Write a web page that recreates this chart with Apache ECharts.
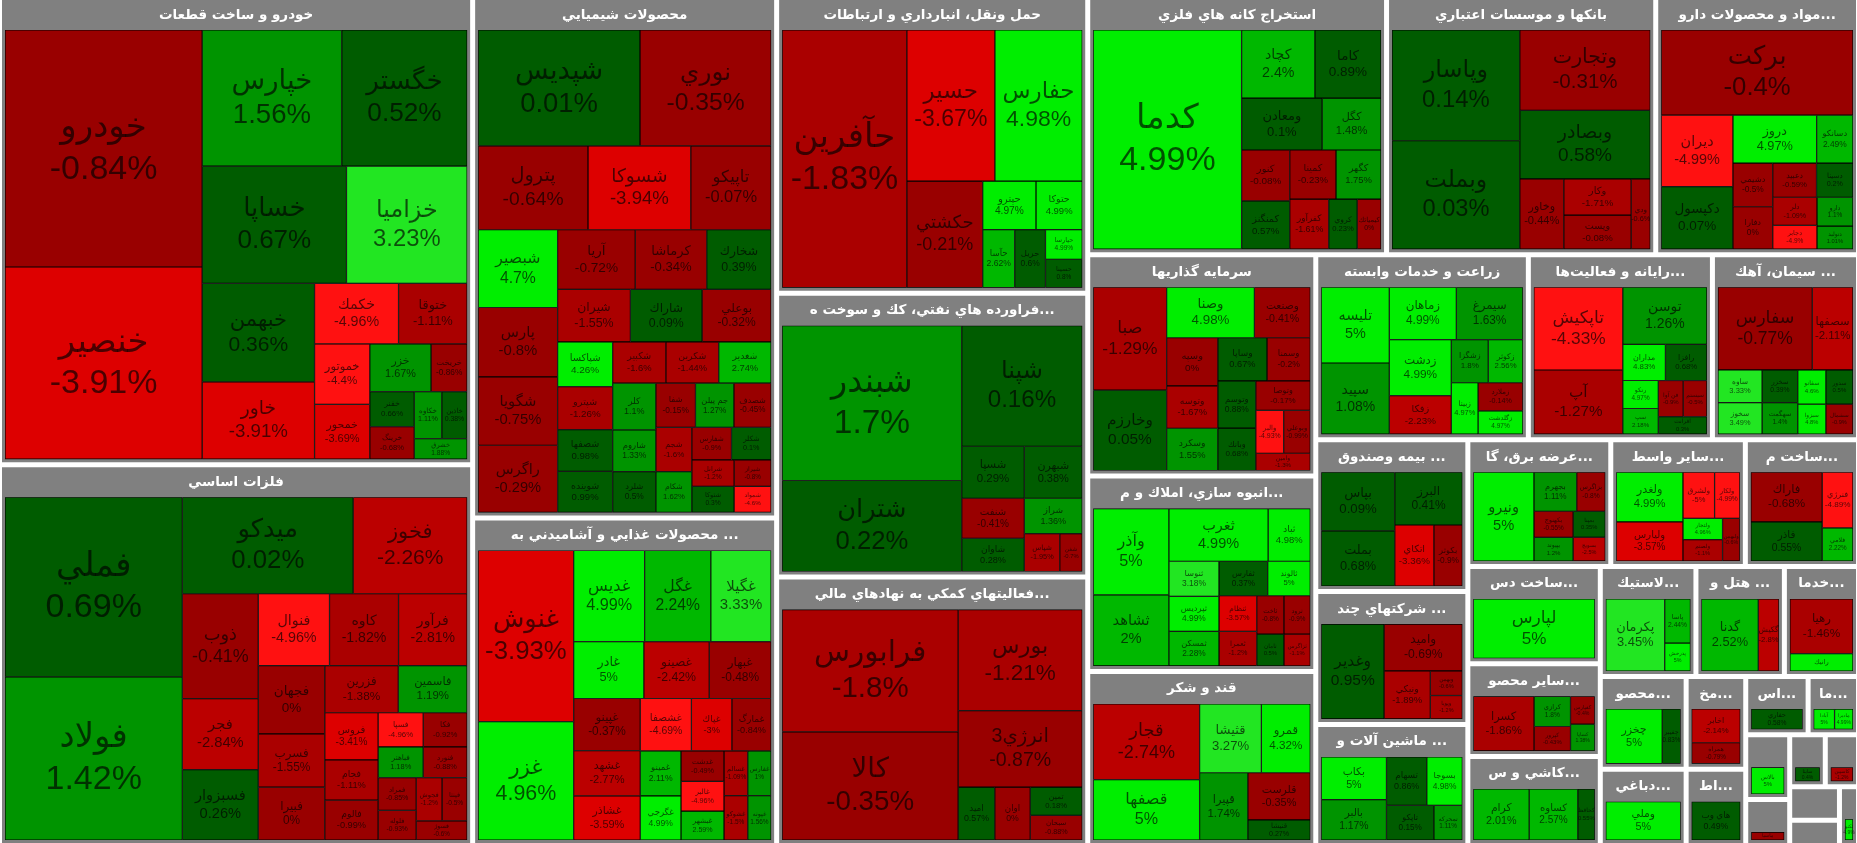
<!DOCTYPE html>
<html>
<head>
<meta charset="utf-8">
<script src="https://cdn.jsdelivr.net/npm/echarts@6/dist/echarts.min.js"></script>
<style>
html,body{margin:0;padding:0;background:#ffffff;}
#chart{width:1857px;height:843px;}
</style>
</head>
<body>
<div id="chart"></div>
<script>
// Each leaf: [symbol, % change, relative tile size]
const s_khodro = [["خودرو",-0.84,33366],["خنصير",-3.91,27058],["خپارس",1.56,13570],["خگستر",0.52,12190],["خساپا",0.67,12078],["خزاميا",3.23,10098],["خبهمن",0.36,7896],["خاور",-3.91,6204],["خكمك",-4.96,3621],["ختوقا",-1.11,2958],["خموتور",-4.4,2392],["خمحور",-3.69,2162],["خزر",1.67,2091],["خريخت",-0.86,1230],["خفنر",0.66,1110],["خرينگ",-0.68,1036],["خكاوه",1.11,924],["خاذين",0.38,851],["خشرق",1.88,777]];
const s_felezat = [["فملي",0.69,22800],["فولاد",1.42,20700],["ميدكو",0.02,11808],["فخوز",-2.26,7872],["ذوب",-0.41,5696],["فجر",-2.84,3860],["فسبزوار",0.26,3820],["فنوال",-4.96,3660],["كاوه",-1.82,3548],["فرآور",-2.81,3528],["فجهان",0,3248],["فسرب",-1.55,2530],["فبيرا",0,2510],["فزرين",-1.38,2480],["فاسمين",1.19,2320],["فروس",-3.41,1800],["فجام",-1.11,1540],["فالوم",-0.99,1520],["فسپا",-4.96,1102],["فكا",-0.92,1073],["فباهنر",1.18,988],["فنورد",-0.88,962],["فمراد",-0.85,896],["فلوله",-0.93,805],["فجوش",-1.2,800],["فپنتا",-0.5,774],["فسوژ",-0.6,700]];
const s_shimi = [["شپديس",0.01,13426],["نوري",-0.35,10878],["پترول",-0.64,6603],["شسوكا",-3.94,6177],["تاپيكو",-0.07,4828],["شبصير",4.7,4422],["پارس",-0.8,3953],["شگويا",-0.75,3886],["راگرس",-0.29,3819],["آريا",-0.72,3315],["كرماشا",-0.34,3050],["شخارك",0.39,2750],["شيران",-1.55,2740],["شاراك",0.09,2700],["بوعلي",-0.32,2596],["شپاكسا",4.26,1760],["شپترو",-1.26,1700],["شصفها",0.98,1640],["شوينده",0.99,1620],["شكبير",-1.6,1575],["شكربن",-1.44,1560],["شغدير",2.74,1550],["كلر",1.1,1444],["شاروم",1.33,1295],["شلرد",0.5,1260],["شفا",-0.15,1254],["جم پيلن",1.27,1216],["شصدف",-0.45,1178],["شجم",-1.6,1140],["شكام",1.62,1050],["شكلر",0.1,924],["شفارس",-0.9,924],["شرانل",-1.2,800],["شتوكا",0.3,790],["شيراز",-0.8,700],["شمواد",-4.6,690]];
const s_ghaza = [["غنوش",-3.93,11826],["غزر",4.96,8181],["غديس",4.99,4680],["غگل",2.24,4368],["غگيلا",3.33,3978],["غادر",5,2891],["غصينو",-2.42,2695],["غبهار",-0.48,2548],["غپينو",-0.37,2508],["غشهد",-2.77,2184],["غشاذر",-3.59,2128],["غشصفا",-4.69,1935],["غپاك",-3,1530],["غمارگ",-0.84,1485],["غمينو",2.11,1330],["غگرجي",4.99,1300],["غدشت",-0.49,950],["غالبر",-4.96,925],["غبشهر",2.59,900],["غسالم",-1.09,770],["غشوكو",-1.5,760],["غفارس",1,760],["غپونه",1.56,750]];
const s_haml = [["حآفرين",-1.83,22890],["حسير",-3.67,9472],["حفارس",4.98,9400],["حكشتي",-0.21,5760],["حپترو",4.97,1845],["حتوكا",4.99,1599],["حآسا",2.62,1323],["حريل",0.6,1274],["حپارسا",4.99,775],["حسينا",0.8,744]];
const s_naft = [["شبندر",1.7,19912],["شتران",0.22,11704],["شپنا",0.16,10404],["شسپا",0.29,2332],["شبهرن",0.38,2156],["شنفت",-0.41,1802],["شاوان",0.28,1484],["شراز",1.36,1470],["شپاس",-1.95,960],["شفن",-0.7,608]];
const s_mali = [["فرابورس",-1.8,15496],["كالا",-0.35,13708],["بورس",-1.21,9030],["انرژي3",-0.87,6825],["اميد",0.57,1395],["اوان",0,1350],["تمين",0.18,1056],["سبحان",-0.88,924]];
const s_kane = [["كدما",4.99,23436],["كچاد",2.4,3599],["كاما",0.89,3245],["ومعادن",0.1,3015],["كگل",1.48,2205],["كنور",-0.08,1763],["كمنگنز",0.57,1681],["كمينا",-0.23,1634],["كگهر",1.75,1591],["كفرآور",-1.61,1408],["كروي",0.23,1032],["كيمياتك",0,860]];
const s_bank = [["وپاسار",0.14,10165],["وبملت",0.03,9951],["وتجارت",-0.31,7521],["وبصادر",0.58,6431],["وخاور",-0.44,2220],["وكار",-1.71,1750],["وپست",-0.08,1650],["ودي",-0.6,960]];
const s_daru = [["بركت",-0.4,11800],["ديران",-4.99,3700],["دكپسول",0.07,3240],["دروز",4.97,2898],["دسانكو",2.49,1260],["دشيمي",-0.5,1254],["دفارا",0,1221],["دعبيد",-0.59,1080],["دلر",-1.09,900],["دسينا",0.2,900],["دجابر",-4.9,760],["دارو",1.1,750],["دتوليد",1.01,600]];
const s_sarmaye = [["صبا",-1.29,5394],["وخارزم",0.05,4216],["وصنا",4.98,3168],["وصنعت",-0.41,2016],["وسپه",0,1763],["وسكرد",1.55,1548],["وتوسه",-1.67,1548],["وساپا",0.67,1517],["وسمنا",-0.2,1332],["وتوسم",0.88,1280],["وبانك",0.68,1152],["وتوصا",-0.17,1150],["والبر",-4.93,851],["وبوعلي",-0.99,814],["وامين",-1.3,675]];
const s_anbooh = [["وآذر",5,4662],["ثشاهد",2,3843],["ثغرب",4.99,3735],["ثباد",4.98,1584],["ثنوسا",3.18,1260],["ثپرديس",4.99,1250],["ثمسكن",2.28,1240],["ثفارس",0.37,1200],["ثالوند",5,1050],["ثنظام",-3.57,961],["ثعمرا",-1.2,930],["ثاخت",-0.8,744],["ثرود",-0.9,720],["ثامان",0.5,620],["ثزاگرس",-1.1,600]];
const s_ghand = [["قجار",-2.74,5785],["قصفها",5,4628],["قثيشا",3.27,3060],["قمرو",4.32,2419],["قپيرا",1.74,2337],["قلرست",-0.35,2120],["قنيشا",0.27,901]];
const s_zeraat = [["تليسه",5,3705],["سپيد",1.08,3477],["زماهان",4.99,2520],["سيمرغ",1.63,2500],["زدشت",4.99,2496],["زفكا",-2.23,1716],["زشگزا",1.8,1147],["زكوثر",2.56,1073],["زبينا",4.97,989],["زملارد",-0.14,903],["زگلدشت",4.97,748]];
const s_rayane = [["تاپكيش",-4.33,5325],["آپ",-1.27,4125],["توسن",1.26,3479],["مداران",4.83,1116],["رافزا",0.68,1085],["رتكو",4.97,720],["سپ",2.18,660],["فن آوا",-0.9,651],["سيستم",-0.5,620],["افرانت",0.3,615]];
const s_siman = [["سفارس",-0.77,5450],["سصفها",-2.11,2350],["ساوه",3.33,1008],["سخوز",3.49,972],["سخزر",0.39,812],["سهگمت",1.4,783],["سفانو",4.6,672],["سدور",0.5,648],["سبزوا",4.8,588],["سشمال",-0.9,567]];
const s_bime = [["بپاس",0.09,3100],["بملت",0.68,2914],["البرز",0.41,2565],["اتكاي",-3.36,1716],["بكوثر",-0.9,1248]];
const s_chand = [["وغدير",0.95,4293],["واميد",-0.69,2640],["ونيكي",-1.89,1599],["وبهمن",-0.6,567],["وپويا",-1.2,540]];
const s_mashin = [["بكاب",5,2035],["بالبر",1.17,1925],["تسهام",0.86,1428],["بسوجا",4.98,1260],["تاپكو",0.15,1200],["تمحركه",1.11,720]];
const s_barq = [["ونيرو",5,3825],["بجهرم",1.11,1188],["بزاگرس",-0.8,792],["بكهنوج",-0.55,726],["بپيوند",1.2,660],["بمپنا",0.35,594],["بسويچ",-2.5,540]];
const s_vasete = [["ولغدر",4.99,2268],["ولپارس",-3.57,1782],["ولشرق",-5,1000],["ولكار",-4.99,800],["ولصنم",-1.1,576],["ولتجار",4.96,576],["ولبهمن",-0.6,504]];
const s_felezi = [["فاراك",-0.68,2436],["فاذر",0.55,1914],["فنرژي",-4.89,1175],["فلامي",2.22,700]];
const s_dastgah = [["لپارس",5,5200]];
const s_kani = [["كسرا",-1.86,2350],["كرازي",1.8,780],["كپرور",-0.43,630],["كفپارس",-0.4,480],["كساپا",1.38,460]];
const s_kashi = [["كرام",2.01,2070],["كساوه",2.57,1800],["كحافظ",0.55,630]];
const s_lastik = [["پكرمان",3.45,2976],["پاسا",2.44,798],["پدرخش",5,504]];
const s_hotel = [["گدنا",2.52,2914],["گكيش",-2.8,1054]];
const s_fanni = [["رهيا",-1.46,2491],["رانيك",5,795]];
const s_kaghaz = [["چخزر",5,2162],["چفيبر",0.83,705]];
const s_dabbaghi = [["وملي",5,2074]];
const s_mokhaberat = [["اخابر",-2.14,1160],["همراه",-0.79,720]];
const s_etelaat = [["هاي وب",0.49,1360]];
const s_naftgas = [["حفاري",0.58,798]];
const s_ma = [["آبادا",5,323],["ماديرا",4.99,285]];
const s_g1 = [["بالاس",5,621]];
const s_g2 = [["ماسيا",-0.9,243]];
const s_g3 = [["ساينا",0.4,250]];
const s_g4 = [["كاسپين",-1.2,230]];
const s_g5 = [["آسيا",0.1,50]];
const s_g6 = [["دتماد",-0.5,50]];
const s_g7 = [["تكنو",4.9,90]];

// Sector header texts (as displayed), sector sizes and their leaves
const sectorHeaders = ["خودرو و ساخت قطعات","فلزات اساسي","محصولات شيميايي","محصولات غذايي و آشاميدني به ...","حمل ونقل، انبارداري و ارتباطات","فراورده هاي نفتي، كك و سوخت ه...","فعاليتهاي كمكي به نهادهاي مالي...","استخراج كانه هاي فلزي","بانكها و موسسات اعتباري","مواد و محصولات دارو...","سرمايه گذاريها","انبوه سازي، املاك و م...","قند و شكر","زراعت و خدمات وابسته","رايانه و فعاليت‌ها...","سيمان، آهك ...","بيمه وصندوق ...","شركتهاي چند ...","ماشين آلات و ...","عرضه برق، گا...","ساير واسط...","ساخت م...","ساخت دس...","ساير محصو...","كاشي و س...","لاستيك...","هتل و ...","خدما...","محصو...","دباغي...","مخ...","اط...","اس...","ما...","","","","","","",""];
const sectorSizes = [158000,128800,113080,71189,65750,63120,59701,54936,49486,37278,36091,31845,28371,28103,24335,19311,16512,14448,13158,12960,12204,10260,9213,8769,8436,7520,6956,5828,5688,4680,3950,3250,2600,2100,2035,1443,1320,1232,1189,902,800];
const sectorLeaves = [s_khodro,s_felezat,s_shimi,s_ghaza,s_haml,s_naft,s_mali,s_kane,s_bank,s_daru,s_sarmaye,s_anbooh,s_ghand,s_zeraat,s_rayane,s_siman,s_bime,s_chand,s_mashin,s_barq,s_vasete,s_felezi,s_dastgah,s_kani,s_kashi,s_lastik,s_hotel,s_fanni,s_kaghaz,s_dabbaghi,s_mokhaberat,s_etelaat,s_naftgas,s_ma,s_g1,s_g2,s_g3,s_g4,s_g5,s_g6,s_g7];

const GREENS = ['#005c00','#009400','#00b800','#22e622','#00ee00'];
const REDS = ['#990000','#aa0000','#bb0000','#dd0000','#ff1111'];
function tileColor(p){
  if (p > 0) return GREENS[Math.min(4, Math.floor(p))];
  return REDS[Math.min(4, Math.floor(-p))];
}

const treeData = sectorHeaders.map(function(h, i){
  const leaves = sectorLeaves[i];
  const sum = leaves.reduce(function(a, l){ return a + l[2]; }, 0);
  return {
    name: h, hdr: h,
    children: leaves.map(function(l){
      const fs = Math.max(5, Math.min(34, 0.237 * Math.sqrt(l[2])));
      return {
        name: l[0], pct: l[1],
        value: sectorSizes[i] * l[2] / sum,
        itemStyle: { color: tileColor(l[1]) },
        label: { fontSize: fs, lineHeight: fs * 1.22 }
      };
    })
  };
});

const chart = echarts.init(document.getElementById('chart'), null, {renderer: 'canvas'});
chart.setOption({
  animation: false,
  backgroundColor: '#ffffff',
  series: [{
    type: 'treemap',
    left: 2, top: 0, right: 1, bottom: 0,
    roam: false, nodeClick: false, silent: true,
    breadcrumb: { show: false },
    squareRatio: 1,
    sort: 'desc',
    visibleMin: 1,
    label: {
      show: true, position: 'inside', align: 'center', verticalAlign: 'middle',
      padding: 0, overflow: 'none',
      color: 'rgba(0,0,0,0.66)',
      fontFamily: "'Liberation Sans','DejaVu Sans',sans-serif",
      formatter: function(p){ return p.name + '\n' + p.data.pct + '%'; }
    },
    upperLabel: {
      show: true, height: 30, position: 'inside', align: 'center', verticalAlign: 'middle',
      padding: 0, color: '#ffffff', fontWeight: 'bold', fontSize: 13.5,
      fontFamily: "'DejaVu Sans',sans-serif", overflow: 'truncate',
      formatter: function(p){ return (p.data && p.data.hdr !== undefined) ? p.data.hdr : p.name; }
    },
    levels: [
      { itemStyle: { borderWidth: 0, gapWidth: 5, borderColor: '#ffffff' }, upperLabel: { show: false, height: 0 } },
      { itemStyle: { borderWidth: 3, gapWidth: 0, borderColor: '#808080', color: '#808080' },
        upperLabel: { show: true, height: 30 } },
      { itemStyle: { borderWidth: 0.6, borderColor: '#000000', gapWidth: 0 } }
    ],
    data: treeData
  }]
});
</script>
</body>
</html>
